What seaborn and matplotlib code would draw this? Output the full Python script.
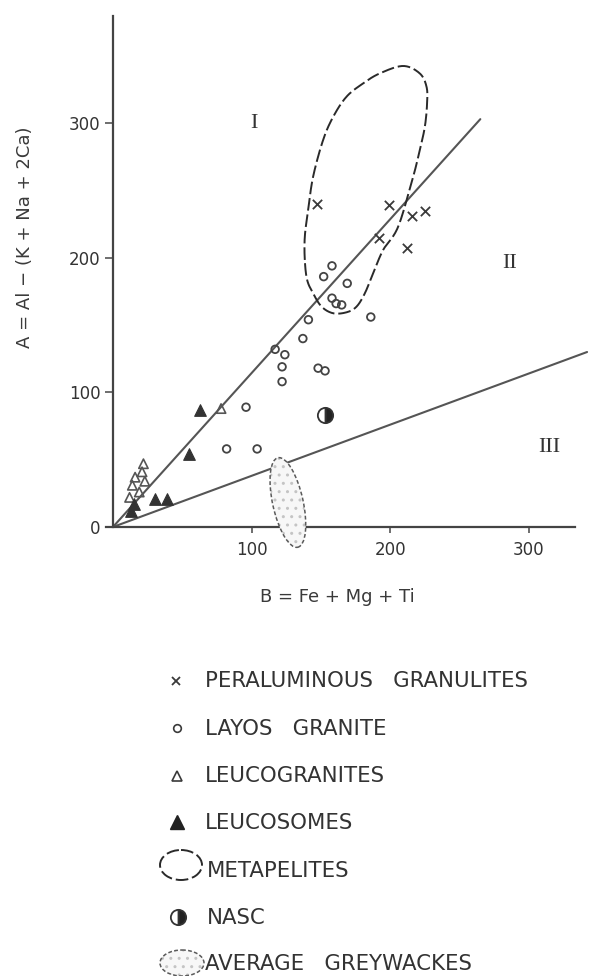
import numpy as np
import pandas as pd
import matplotlib
matplotlib.use("Agg")
import matplotlib.pyplot as plt
import seaborn as sns
from matplotlib.patches import Ellipse

sns.set_theme(style="white")
plt.rcParams["font.family"] = ["DejaVu Sans"]

# ---------------- data (B = Fe+Mg+Ti, A = Al-(K+Na+2Ca)) ----------------
gran_B = [147, 199, 216, 225, 192, 212]
gran_A = [240, 239, 231, 235, 215, 207]

layos_B = [158, 152, 169, 186, 158, 161, 165, 141, 137, 117, 124, 122, 122, 148, 153, 96, 82, 104]
layos_A = [194, 186, 181, 156, 170, 166, 165, 154, 140, 132, 128, 119, 108, 118, 116, 89, 58, 58]

leucogr_B = [22, 21, 16, 23, 14, 19, 12, 78]
leucogr_A = [47, 41, 37, 34, 31, 26, 22, 88]

leucos_B = [63, 55, 30, 39, 15, 13]
leucos_A = [87, 54, 21, 21, 17, 12]

nasc_B = [153]
nasc_A = [83]

# metapelite field outline
meta_B = [138.4, 138.4, 140.8, 144.4, 151.6, 158.9, 168.5, 180.5, 192.5, 209.3, 221.3, 226.2,
          226.6, 225.0, 221.3, 216.5, 205.7, 194.9, 187.7, 181.7, 175.7, 168.5, 158.8, 150.5,
          144.4, 140.1]
meta_A = [198.4, 215.7, 235.5, 260.3, 287.5, 304.8, 319.7, 329.6, 337.0, 342.5, 337.0, 327.1,
          314.8, 297.4, 280.0, 260.0, 223.0, 205.8, 188.5, 173.6, 163.7, 159.5, 158.8, 163.7,
          173.6, 183.5]

# average greywackes field (centre, long axis, short axis, tilt)
grey_center = (126.2, 18.2)
grey_long = 68
grey_short = 22
grey_angle = 102

# dividing lines
upper_B = [0, 265]
upper_A = [0, 303]
lower_B = [0, 342]
lower_A = [0, 130]

x_ticks = [100, 200, 300]
y_ticks = [0, 100, 200, 300]

legend_labels = ["PERALUMINOUS   GRANULITES", "LAYOS   GRANITE", "LEUCOGRANITES",
                 "LEUCOSOMES", "METAPELITES", "NASC", "AVERAGE   GREYWACKES"]

# ---------------- figure ----------------
W, H = 589, 976
fig = plt.figure(figsize=(W / 100, H / 100), dpi=100)
fig.patch.set_facecolor("white")

ax = fig.add_axes([106 / W, (H - 527) / H, 488 / W, 511.5 / H])
ax.set_facecolor("none")
ax.set_xlim(-5, 347)
ax.set_ylim(0, 380)

dark = "#3a3a3a"
linec = "#555555"

sns.lineplot(x=upper_B, y=upper_A, ax=ax, color=linec, lw=1.5, zorder=2)
sns.lineplot(x=lower_B, y=lower_A, ax=ax, color=linec, lw=1.5, zorder=2)


def smooth_closed(xs, ys, n=16):
    P = np.column_stack([xs, ys])
    N = len(P)
    out = []
    t = np.linspace(0, 1, n, endpoint=False)[:, None]
    for i in range(N):
        p0, p1, p2, p3 = P[(i - 1) % N], P[i], P[(i + 1) % N], P[(i + 2) % N]
        pts = 0.5 * ((2 * p1) + (-p0 + p2) * t + (2 * p0 - 5 * p1 + 4 * p2 - p3) * t ** 2
                     + (-p0 + 3 * p1 - 3 * p2 + p3) * t ** 3)
        out.append(pts)
    out = np.vstack(out + [out[0][:1]])
    return out[:, 0], out[:, 1]


mx, my = smooth_closed(meta_B, meta_A)
ax.plot(mx, my, color="#2a2a2a", lw=1.4, ls=(0, (6.5, 2)), zorder=3)


def stippled_ellipse(target, center, w, h, angle, clip=True):
    fill = Ellipse(center, w, h, angle=angle, facecolor="#f7f7f7", edgecolor="#c4c4c4",
                   lw=0, hatch="..", clip_on=clip, zorder=3)
    target.add_patch(fill)
    edge = Ellipse(center, w, h, angle=angle, facecolor="none", edgecolor="#5a5a5a",
                   lw=1.1, ls=(0, (2.5, 1.5)), clip_on=clip, zorder=3)
    target.add_patch(edge)


stippled_ellipse(ax, grey_center, grey_short, grey_long, grey_angle - 90, clip=False)

sns.scatterplot(x=gran_B, y=gran_A, ax=ax, marker="x", s=45, color=dark, linewidth=1.3, zorder=4)
sns.scatterplot(x=layos_B, y=layos_A, ax=ax, marker="o", s=30, facecolor="none",
                edgecolor="#444444", linewidth=1.3, zorder=4)
sns.scatterplot(x=leucogr_B, y=leucogr_A, ax=ax, marker="^", s=45, facecolor="none",
                edgecolor="#555555", linewidth=1.2, zorder=4)
sns.scatterplot(x=leucos_B, y=leucos_A, ax=ax, marker="^", s=70, color="#333333",
                edgecolor="#333333", linewidth=0.8, zorder=4)
ax.plot(nasc_B, nasc_A, ls="none", marker="o", ms=11, fillstyle="right",
        markerfacecolor="#222222", markerfacecoloralt="white", markeredgecolor="#333333",
        mew=1.3, zorder=5)

# region labels
serif = ["Liberation Serif", "DejaVu Serif"]
ax.text(102, 300, "I", fontsize=16, family=serif, color="#333333", ha="center", va="center")
ax.text(286, 196, "II", fontsize=16, family=serif, color="#333333", ha="center", va="center")
ax.text(315, 59, "III", fontsize=16, family=serif, color="#333333", ha="center", va="center")

# axes styling
for s in ["top", "right"]:
    ax.spines[s].set_visible(False)
ax.spines["left"].set_position(("data", 0))
ax.spines["left"].set_bounds(0, 380)
ax.spines["bottom"].set_bounds(-5, 333)
for s in ["left", "bottom"]:
    ax.spines[s].set_color("#444444")
    ax.spines[s].set_linewidth(1.6)
ax.set_xticks(x_ticks)
ax.set_yticks(y_ticks)
ax.tick_params(axis="y", direction="out", length=6, width=1.2, color="#555555",
               labelsize=12, labelcolor="#333333", pad=3, left=True)
ax.tick_params(axis="x", direction="out", length=4, width=1.2, color="#555555",
               labelsize=12, labelcolor="#333333", pad=6, bottom=True)
ax.set_xlabel("")
ax.set_ylabel("")
ax.grid(False)

fig.text(25 / W, 1 - 237 / H, "A = Al − (K + Na + 2Ca)", rotation=90, ha="center",
         va="center", fontsize=13, color="#3a3a3a")
fig.text(337.5 / W, 1 - 597 / H, "B = Fe + Mg + Ti", ha="center", va="center",
         fontsize=13, color="#3a3a3a")

# ---------------- legend (drawn in pixel space) ----------------
lax = fig.add_axes([0, 0, 1, 1], zorder=-1)
lax.set_xlim(0, W)
lax.set_ylim(H, 0)
lax.axis("off")

baselines = [687, 735, 782, 829, 877, 924, 970]
text_x = [205, 205, 205, 205, 207, 207, 205]
for lbl, bx, by in zip(legend_labels, text_x, baselines):
    lax.text(bx, by, lbl, fontsize=15.3, color="#333333", ha="left", va="baseline")

lax.plot([176], [681], marker="x", ms=6, mew=1.3, color=dark, ls="none")
lax.plot([177], [728], marker="o", ms=5.5, mew=1.2, mfc="none", mec=dark, ls="none")
lax.plot([177], [776], marker="^", ms=7.5, mew=1.2, mfc="none", mec=dark, ls="none")
lax.plot([177], [822], marker="^", ms=9.5, mew=1, color="#222222", ls="none")
lax.add_patch(Ellipse((181, 865), 42, 30, facecolor="none", edgecolor="#2a2a2a", lw=1.4,
                      ls=(0, (6.5, 2))))
lax.plot([177.5], [916.5], marker="o", ms=11, fillstyle="right", markerfacecolor="#222222",
         markerfacecoloralt="white", markeredgecolor="#333333", mew=1.3, ls="none")
stippled_ellipse(lax, (182, 963), 44, 26, 0)

fig.savefig("out.png", dpi=100, facecolor="white")
